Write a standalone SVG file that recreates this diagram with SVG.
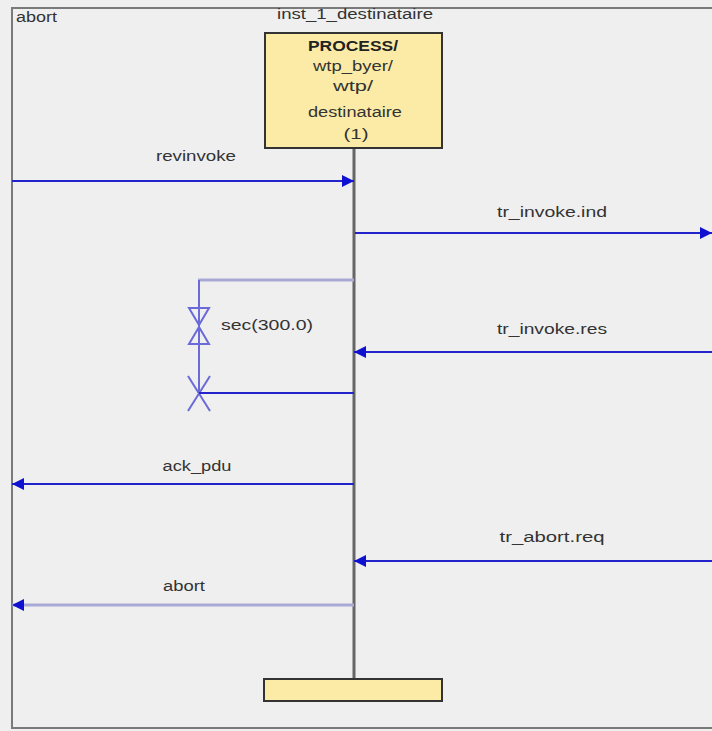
<svg xmlns="http://www.w3.org/2000/svg" width="712" height="731" viewBox="0 0 712 731">
<defs>
<style>
.t{font-family:"Liberation Sans",Arial,sans-serif;font-size:14px;fill:#333;text-anchor:middle}
.msg{stroke:#2323cc;stroke-width:2;fill:none}
.msgl{stroke:#a9a9d6;stroke-width:3;fill:none}
.box{fill:#fbeba6;stroke:#333;stroke-width:2}
.frame{stroke:#7a7a7a;stroke-width:2;fill:none}
.tm{stroke:#6a6ad8;stroke-width:2;fill:none}
</style>
<marker id="ah" viewBox="0 0 12 12" refX="12" refY="6" markerWidth="12" markerHeight="12" markerUnits="userSpaceOnUse" orient="auto">
<path d="M0,0 L12,6 L0,12 Z" fill="#1010d0"/>
</marker>
</defs>
<rect x="0" y="0" width="712" height="731" fill="#efefef"/>
<g id="frame">
<path class="frame" d="M712,8 H12 V728 H712"/>
<text class="t" x="16" y="22" style="text-anchor:start" textLength="41" lengthAdjust="spacingAndGlyphs">abort</text>
</g>
<g id="lifeline">
<line x1="354" y1="149" x2="354" y2="680" stroke="#666" stroke-width="3"/>
</g>
<g id="inst_1_destinataire">
<text class="t" x="355" y="19" textLength="156" lengthAdjust="spacingAndGlyphs">inst_1_destinataire</text>
<rect class="box" x="265" y="33" width="177" height="115"/>
<text class="t" x="353" y="51" textLength="90" lengthAdjust="spacingAndGlyphs" style="font-weight:bold;fill:#222">PROCESS/</text>
<text class="t" x="353" y="71" textLength="80" lengthAdjust="spacingAndGlyphs">wtp_byer/</text>
<text class="t" x="353" y="91" textLength="40" lengthAdjust="spacingAndGlyphs">wtp/</text>
<text class="t" x="355" y="117" textLength="94" lengthAdjust="spacingAndGlyphs">destinataire</text>
<text class="t" x="356" y="139" textLength="25" lengthAdjust="spacingAndGlyphs">(1)</text>
</g>
<g id="end">
<rect class="box" x="264" y="679" width="178" height="22"/>
</g>
<g id="connectors">
<line class="msg" x1="12" y1="181" x2="354" y2="181" marker-end="url(#ah)"/>
<text class="t" x="196" y="161" textLength="80" lengthAdjust="spacingAndGlyphs">revinvoke</text>
<line class="msg" x1="355" y1="233" x2="712" y2="233" marker-end="url(#ah)"/>
<text class="t" x="552" y="217" textLength="110" lengthAdjust="spacingAndGlyphs">tr_invoke.ind</text>
<line class="msg" x1="712" y1="352" x2="354" y2="352" marker-end="url(#ah)"/>
<text class="t" x="552" y="334" textLength="110" lengthAdjust="spacingAndGlyphs">tr_invoke.res</text>
<line class="msg" x1="354" y1="484" x2="12" y2="484" marker-end="url(#ah)"/>
<text class="t" x="197" y="471" textLength="69" lengthAdjust="spacingAndGlyphs">ack_pdu</text>
<line class="msg" x1="712" y1="561" x2="354" y2="561" marker-end="url(#ah)"/>
<text class="t" x="552" y="542" textLength="105" lengthAdjust="spacingAndGlyphs">tr_abort.req</text>
<line class="msgl" x1="354" y1="605" x2="12" y2="605"/>
<path d="M12,605 L24,599 L24,611 Z" fill="#1010d0"/>
<text class="t" x="184" y="591" textLength="42" lengthAdjust="spacingAndGlyphs">abort</text>
</g>
<g id="timer">
<line x1="198" y1="280" x2="354" y2="280" stroke="#a9a9d6" stroke-width="3"/>
<line class="tm" x1="199" y1="280" x2="199" y2="393"/>
<path class="tm" d="M189,308 H209 L199,325 Z M199,327 L189,344 H209 Z"/>
<path class="tm" d="M188,376 L210,411 M210,376 L188,411"/>
<line class="msg" x1="199" y1="393" x2="354" y2="393"/>
<text class="t" x="267" y="330" textLength="92" lengthAdjust="spacingAndGlyphs">sec(300.0)</text>
</g>
</svg>
